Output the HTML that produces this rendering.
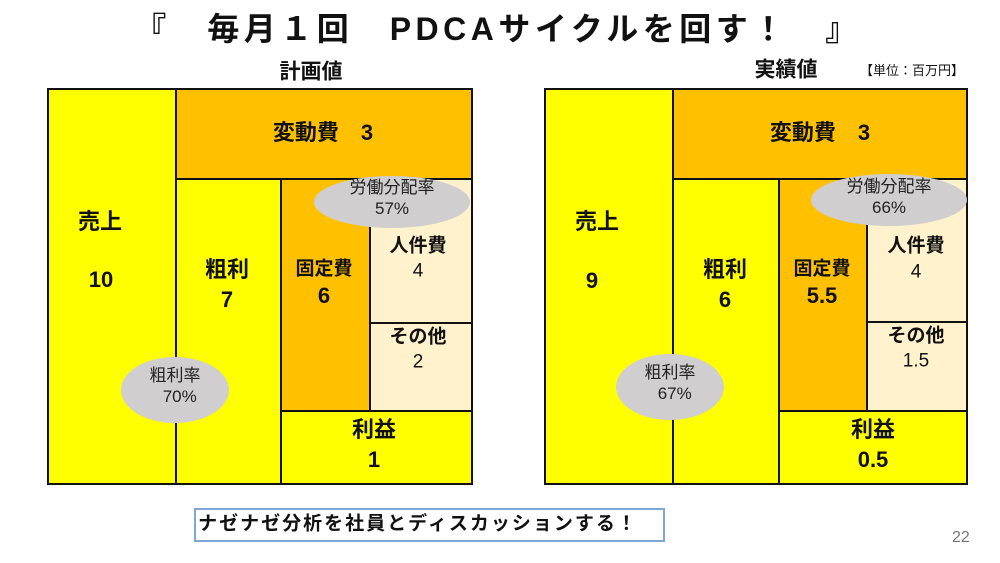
<!DOCTYPE html>
<html><head><meta charset="utf-8"><style>
*{margin:0;padding:0;box-sizing:border-box}
body{width:1000px;height:563px;background:#fff;position:relative;overflow:hidden;font-family:"Liberation Sans","Noto Sans CJK JP",sans-serif;color:#111}
.r{position:absolute;border:2px solid #111}
.y{background:#ffff00}.o{background:#ffc000}.b{background:#fff2cc}
.t{position:absolute;transform:translate(-50%,-50%);font-weight:bold;font-size:22px;white-space:nowrap;text-align:center;line-height:1.2}
.e{position:absolute;background:#d0cece;border-radius:50%;}
.et{position:absolute;transform:translate(-50%,-50%);font-size:17px;text-align:center;line-height:1.25;white-space:nowrap;color:#222}
</style></head><body>
<div class="t" style="left:498px;top:29px;font-size:32px;letter-spacing:4.5px">『　毎月１回　PDCAサイクルを回す！　』</div>
<div class="t" style="left:311px;top:72px;font-size:21px">計画値</div>
<div class="t" style="left:786px;top:70px;font-size:21px">実績値</div>
<div class="t" style="left:912px;top:71px;font-size:13px;font-weight:normal">【単位：百万円】</div>

<!-- left chart -->
<div class="r y" style="left:47px;top:88px;width:130px;height:397px"></div>
<div class="r o" style="left:175px;top:88px;width:298px;height:92px"></div>
<div class="r y" style="left:175px;top:178px;width:107px;height:307px"></div>
<div class="r o" style="left:280px;top:178px;width:91px;height:234px"></div>
<div class="r b" style="left:369px;top:178px;width:104px;height:146px"></div>
<div class="r b" style="left:369px;top:322px;width:104px;height:90px"></div>
<div class="r y" style="left:280px;top:410px;width:193px;height:75px"></div>
<div class="t" style="left:100px;top:222px">売上</div>
<div class="t" style="left:101px;top:280px">10</div>
<div class="t" style="left:323px;top:133px">変動費　3</div>
<div class="t" style="left:227px;top:270px">粗利</div>
<div class="t" style="left:227px;top:300px">7</div>
<div class="t" style="left:324px;top:270px;font-size:19px">固定費</div>
<div class="t" style="left:324px;top:296px">6</div>
<div class="t" style="left:418px;top:247px;font-size:19px">人件費</div>
<div class="t" style="left:418px;top:272px;font-size:19px;font-weight:normal">4</div>
<div class="t" style="left:418px;top:338px;font-size:19px">その他</div>
<div class="t" style="left:418px;top:363px;font-size:19px;font-weight:normal">2</div>
<div class="t" style="left:374px;top:430px">利益</div>
<div class="t" style="left:374px;top:460px">1</div>
<div class="e" style="left:314px;top:176px;width:156px;height:52px"></div>
<div class="et" style="left:392px;top:198px">労働分配率<br>57%</div>
<div class="e" style="left:121px;top:357px;width:108px;height:66px"></div>
<div class="et" style="left:175px;top:386px">粗利率<br>&nbsp;&nbsp;70%</div>

<!-- right chart -->
<div class="r y" style="left:544px;top:88px;width:130px;height:397px"></div>
<div class="r o" style="left:672px;top:88px;width:296px;height:92px"></div>
<div class="r y" style="left:672px;top:178px;width:108px;height:307px"></div>
<div class="r o" style="left:778px;top:178px;width:90px;height:234px"></div>
<div class="r b" style="left:866px;top:178px;width:102px;height:145px"></div>
<div class="r b" style="left:866px;top:321px;width:102px;height:91px"></div>
<div class="r y" style="left:778px;top:410px;width:190px;height:75px"></div>
<div class="t" style="left:597px;top:222px">売上</div>
<div class="t" style="left:592px;top:281px">9</div>
<div class="t" style="left:820px;top:133px">変動費　3</div>
<div class="t" style="left:725px;top:270px">粗利</div>
<div class="t" style="left:725px;top:300px">6</div>
<div class="t" style="left:822px;top:270px;font-size:19px">固定費</div>
<div class="t" style="left:822px;top:296px">5.5</div>
<div class="t" style="left:916px;top:247px;font-size:19px">人件費</div>
<div class="t" style="left:916px;top:273px;font-size:19px;font-weight:normal">4</div>
<div class="t" style="left:916px;top:337px;font-size:19px">その他</div>
<div class="t" style="left:916px;top:362px;font-size:19px;font-weight:normal">1.5</div>
<div class="t" style="left:873px;top:430px">利益</div>
<div class="t" style="left:873px;top:460px">0.5</div>
<div class="e" style="left:811px;top:174px;width:156px;height:52px"></div>
<div class="et" style="left:889px;top:197px">労働分配率<br>66%</div>
<div class="e" style="left:616px;top:354px;width:108px;height:66px"></div>
<div class="et" style="left:670px;top:383px">粗利率<br>&nbsp;&nbsp;67%</div>

<div style="position:absolute;left:194px;top:508px;width:471px;height:34px;border:2px solid #7fa6d6;background:#fff"></div>
<div class="t" style="left:418px;top:525px;font-size:19px;letter-spacing:2px">ナゼナゼ分析を社員とディスカッションする！</div>
<div style="position:absolute;left:952px;top:529px;font-size:16px;color:#777">22</div>
</body></html>
